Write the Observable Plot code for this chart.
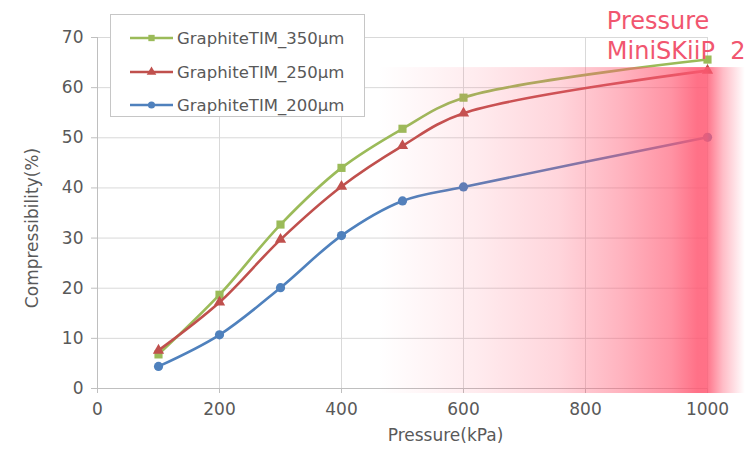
<!DOCTYPE html>
<html>
<head>
<meta charset="utf-8">
<script src="https://cdn.jsdelivr.net/npm/d3@7"></script>
<script src="https://cdn.jsdelivr.net/npm/@observablehq/plot@0.6"></script>
<style>
  html, body { margin: 0; padding: 0; background: #fff; }
  #wrap { position: relative; width: 749px; height: 453px; overflow: hidden; font-family: "DejaVu Sans", sans-serif; }
  #legend { position: absolute; left: 110px; top: 14px; width: 255px; height: 103px; border: 1px solid #c6c6c6; background: #fff; box-sizing: border-box; z-index: 1; }
  .row { position: absolute; left: 0; height: 20px; display: flex; align-items: center; }
  .row span { font-size: 16.5px; color: #595959; margin-left: 4px; white-space: nowrap; }
  #ytitle { position: absolute; left: 32px; top: 228px; transform: translate(-50%, -50%) rotate(-90deg); font-size: 17px; color: #595959; white-space: nowrap; z-index: 1; }
</style>
</head>
<body>
<div id="wrap"></div>
<script>
// ---- data ----
const pressures = [100, 200, 300, 400, 500, 600, 1000];
const seriesNames = ["GraphiteTIM_350μm", "GraphiteTIM_250μm", "GraphiteTIM_200μm"];
const values350 = [6.8, 18.7, 32.7, 44.0, 51.8, 58.0, 65.6];
const values250 = [7.6, 17.2, 29.7, 40.3, 48.4, 54.9, 63.4];
const values200 = [4.4, 10.7, 20.1, 30.5, 37.4, 40.2, 50.1];
const seriesColors = ["#9bbb59", "#c0504d", "#4f81bd"];
const seriesSymbols = ["square", "triangle", "circle"];
const xTicks = [0, 200, 400, 600, 800, 1000];
const yTicks = [0, 10, 20, 30, 40, 50, 60, 70];
const xTitle = "Pressure(kPa)";
const yTitle = "Compressibility(%)";
const highlight = [{x1: 462, x2: 1062, y1: -1, y2: 64}];
const annotation = [{x: 835, y: 75.9, text: "Pressure\nMiniSKiiP  2"}];

const allValues = [values350, values250, values200];
const rows = [];
seriesNames.forEach((name, i) => {
  pressures.forEach((p, j) => rows.push({series: name, pressure: p, value: allValues[i][j]}));
});

const marks = [
  Plot.gridY({ticks: yTicks, stroke: "#d9d9d9", strokeOpacity: 1}),
  Plot.gridX({ticks: xTicks, stroke: "#d9d9d9", strokeOpacity: 1}),
  Plot.ruleY([0], {stroke: "#bfbfbf"}),
  Plot.ruleX([0], {stroke: "#bfbfbf"}),
  Plot.axisX({ticks: xTicks, tickFormat: d => String(d), tickSize: 5, tickPadding: 9, stroke: "#bfbfbf", fill: "#595959", label: null, fontSize: 17}),
  Plot.axisY({ticks: yTicks, tickFormat: d => String(d), tickSize: 6, tickPadding: 8, stroke: "#bfbfbf", fill: "#595959", label: null, fontSize: 17}),
];
seriesNames.forEach((name, i) => {
  const d = rows.filter(r => r.series === name);
  marks.push(Plot.line(d, {x: "pressure", y: "value", stroke: seriesColors[i], strokeWidth: 2.6, curve: "catmull-rom"}));
  marks.push(Plot.dot(d, {x: "pressure", y: "value", fill: seriesColors[i], stroke: "none", symbol: seriesSymbols[i], r: i === 1 ? 4.2 : 4.6}));
});
marks.push(Plot.rect(highlight, {x1: "x1", x2: "x2", y1: "y1", y2: "y2", fill: "url(#pinkGrad)"}));
marks.push(Plot.text([xTitle], {text: d => d, frameAnchor: "bottom", dx: 43, dy: 52, fontSize: 17, fill: "#595959"}));
marks.push(Plot.text(annotation, {x: "x", y: "y", text: "text", textAnchor: "start", lineAnchor: "top", fontSize: 24, lineHeight: 1.25, fill: "#f1566f"}));

const chart = Plot.plot({
  width: 749,
  height: 453,
  marginLeft: 97,
  marginRight: 42,
  marginTop: 37,
  marginBottom: 65,
  x: {domain: [0, 1000]},
  y: {domain: [0, 70]},
  style: {fontFamily: "DejaVu Sans, sans-serif", fontSize: "17px", color: "#595959", background: "#fff", overflow: "visible"},
  marks
});

// gradient definition
const svg = d3.select(chart);
const grad = svg.insert("defs", ":first-child").append("linearGradient")
  .attr("id", "pinkGrad").attr("x1", "0").attr("x2", "1").attr("y1", "0").attr("y2", "0");
const stops = [[0, 0], [0.27, 0.12], [0.49, 0.25], [0.66, 0.45], [0.8, 0.65], [0.87, 0.85], [0.895, 0.85], [0.94, 0.4], [1, 0]];
stops.forEach(([o, a]) => grad.append("stop").attr("offset", o).attr("stop-color", "#ff5872").attr("stop-opacity", a));

const wrap = document.getElementById("wrap");
chart.style.position = "absolute"; chart.style.left = "0"; chart.style.top = "0";
wrap.appendChild(chart);

// y title
const yt = document.createElement("div");
yt.id = "ytitle";
yt.textContent = yTitle;
wrap.appendChild(yt);

// legend
const legend = document.createElement("div");
legend.id = "legend";
const rowTops = [13, 47, 80];
seriesNames.forEach((name, i) => {
  const row = document.createElement("div");
  row.className = "row";
  row.style.top = rowTops[i] + "px";
  row.style.left = "19px";
  const s = d3.create("svg").attr("width", 43).attr("height", 20);
  s.append("line").attr("x1", 0).attr("x2", 43).attr("y1", 10).attr("y2", 10).attr("stroke", seriesColors[i]).attr("stroke-width", 2.6);
  s.append("path").attr("transform", "translate(21.5,10)").attr("fill", seriesColors[i])
    .attr("d", d3.symbol(i === 0 ? d3.symbolSquare : i === 1 ? d3.symbolTriangle : d3.symbolCircle, 40)());
  row.appendChild(s.node());
  const t = document.createElement("span");
  t.textContent = name;
  row.appendChild(t);
  legend.appendChild(row);
});
wrap.appendChild(legend);
</script>
</body>
</html>
